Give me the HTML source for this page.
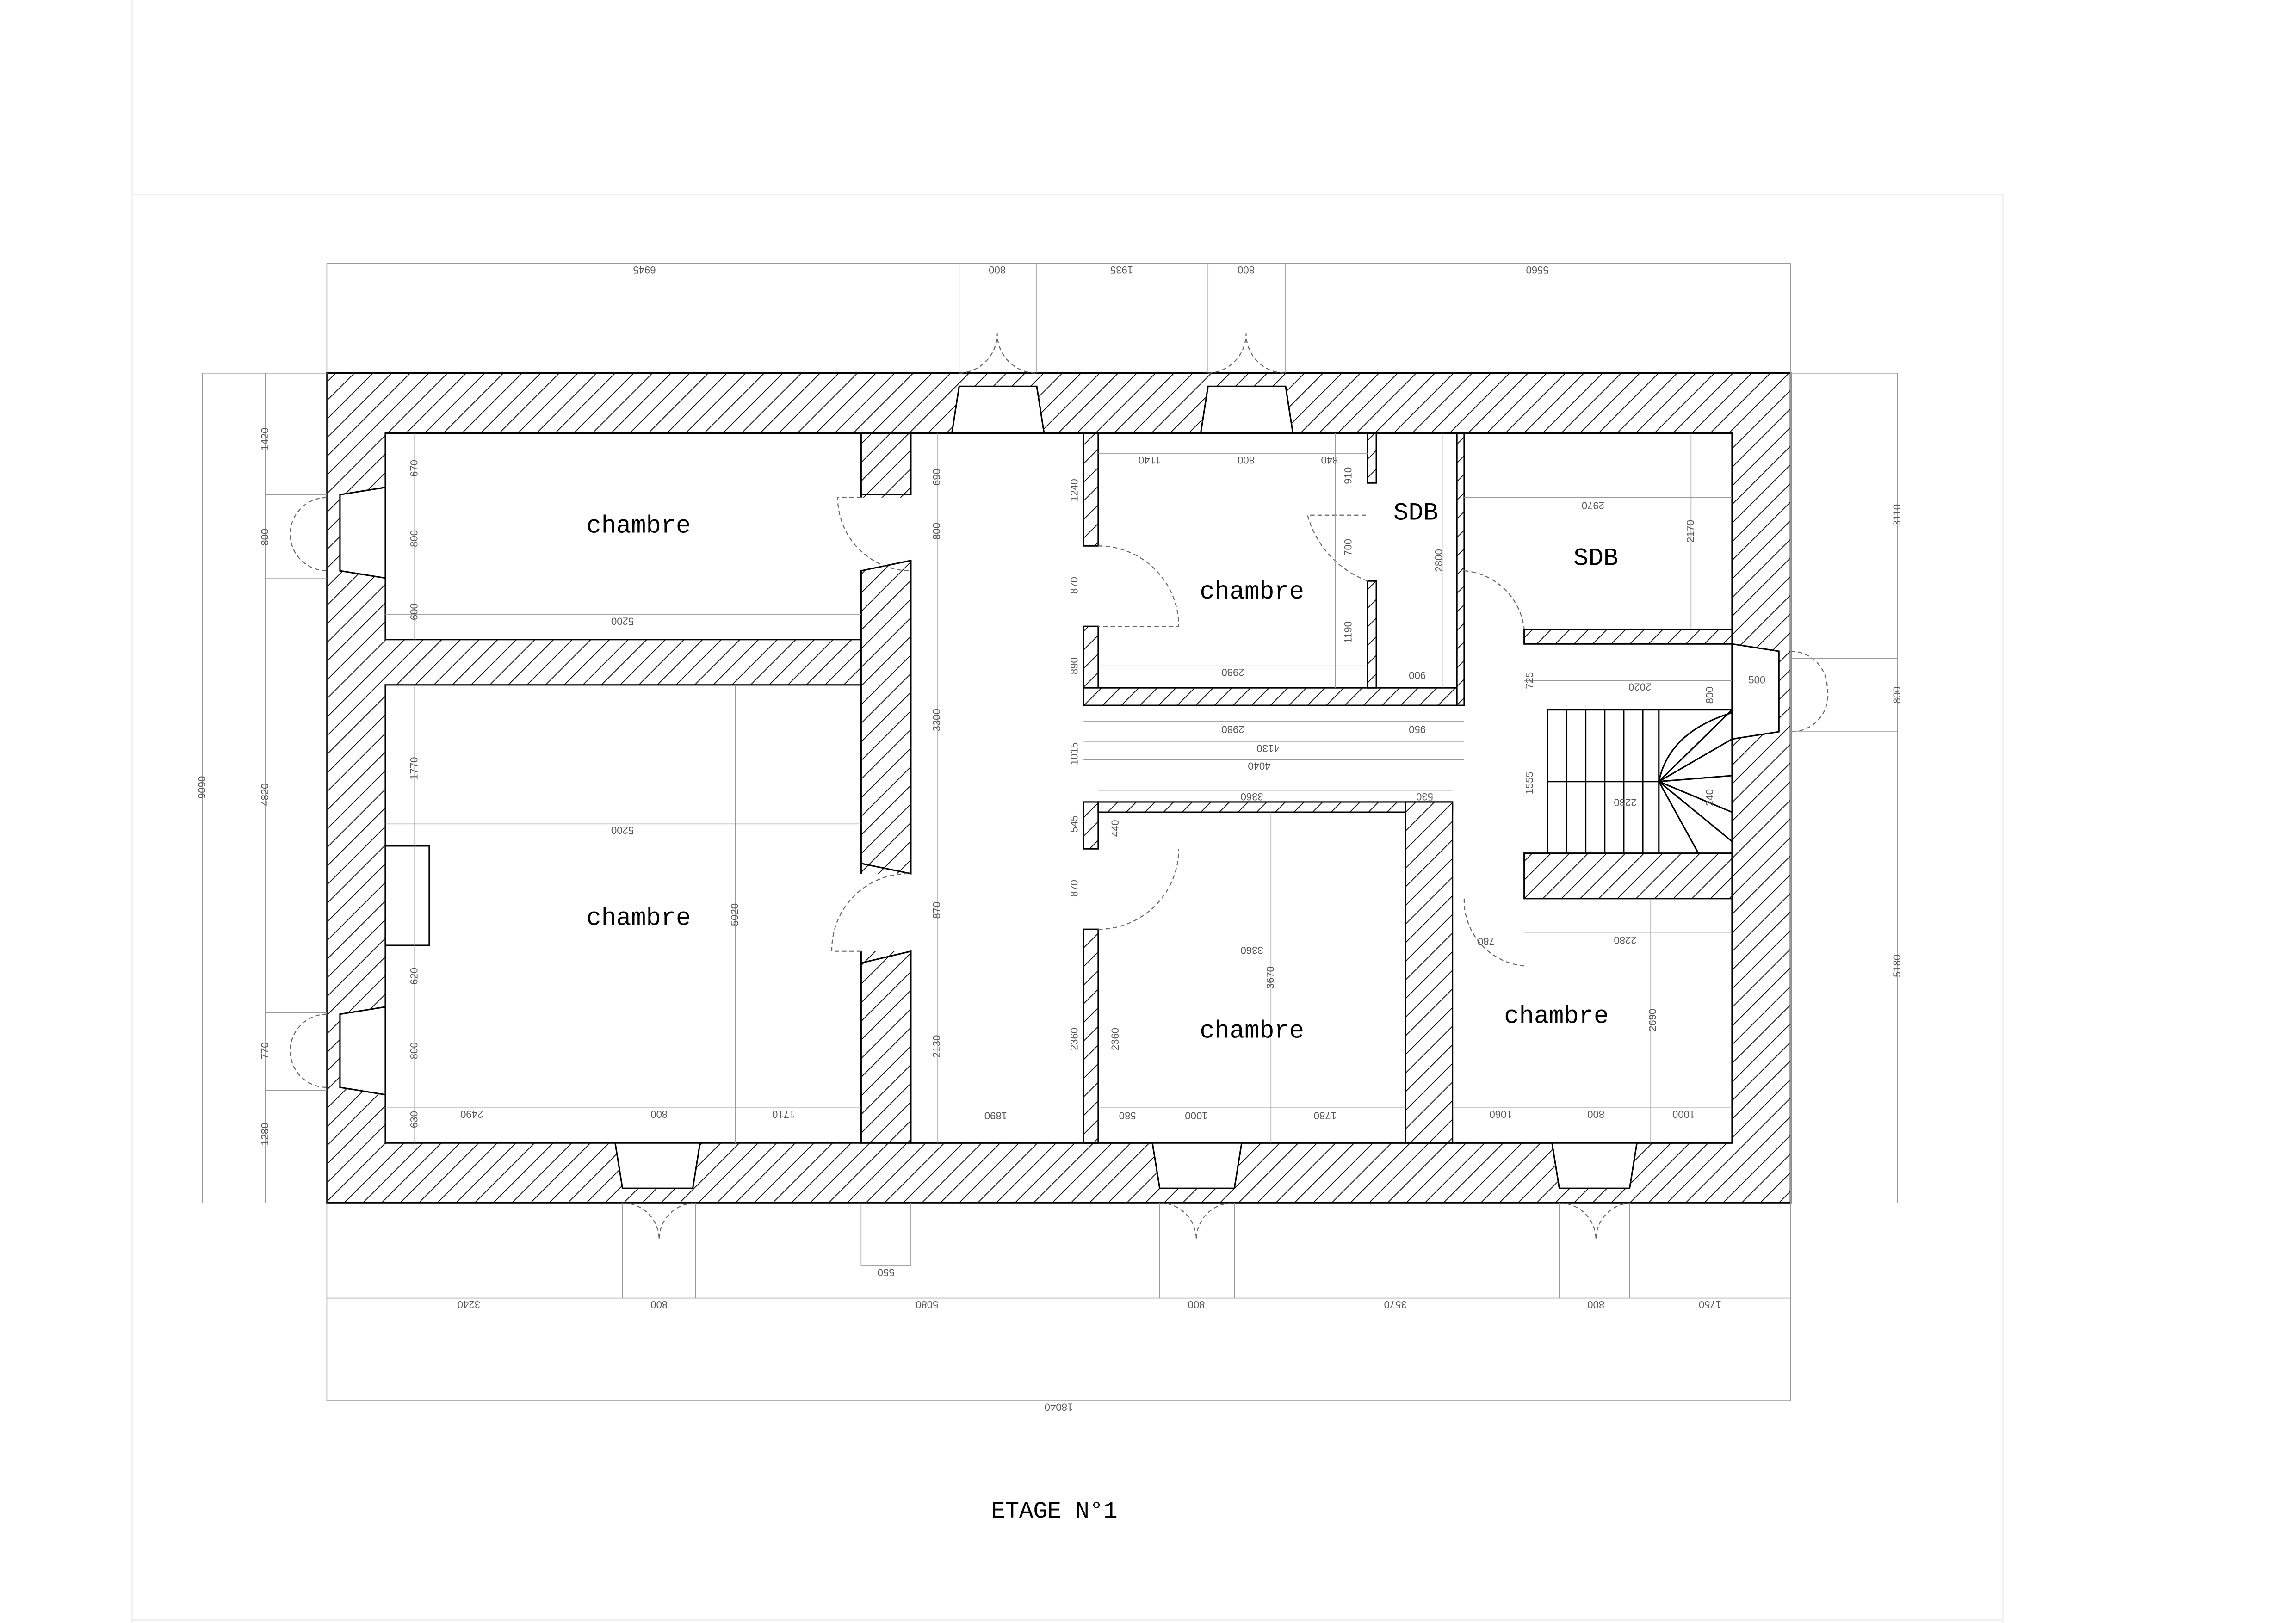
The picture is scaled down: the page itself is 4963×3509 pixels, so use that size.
<!DOCTYPE html>
<html><head><meta charset="utf-8"><style>
html,body{margin:0;padding:0;background:#fff;}
svg{display:block;}
.d{stroke:#999;stroke-width:0.5;fill:none}
.t{font-family:"Liberation Sans",sans-serif;font-size:7px;fill:#555}
.r{font-family:"Liberation Mono","DejaVu Sans Mono",monospace;font-size:17px;fill:#000}
</style></head><body>
<svg width="4963" height="3509" viewBox="0 0 1568 1109" xmlns="http://www.w3.org/2000/svg">
<defs>
<pattern id="h" patternUnits="userSpaceOnUse" width="9" height="9" patternTransform="rotate(45)">
<rect width="9" height="9" fill="#fff"/><line x1="0" y1="0" x2="0" y2="9" stroke="#000" stroke-width="1.1"/>
</pattern>
</defs>
<rect width="1568" height="1109" fill="#fff"/>
<g stroke="#eee" stroke-width="0.8" fill="none">
<line x1="90" y1="133" x2="1368" y2="133"/><line x1="90" y1="1107" x2="1368" y2="1107"/>
<line x1="90" y1="0" x2="90" y2="1109"/><line x1="1368" y1="133" x2="1368" y2="1109"/>
</g>
<!-- outer wall -->
<rect x="223" y="255" width="1000" height="567" fill="url(#h)" stroke="#000" stroke-width="1.2"/>
<!-- white areas -->
<g fill="#fff" stroke="#000" stroke-width="1">
<rect x="263" y="296" width="325" height="141"/>
<rect x="263" y="468" width="325" height="313"/>
<rect x="622" y="296" width="118" height="485"/>
<rect x="740" y="296" width="255" height="485"/>
<rect x="995" y="296" width="188" height="485"/>
</g>
<g fill="#fff">
<rect x="585" y="340" width="40" height="50"/>
<rect x="585" y="597" width="40" height="53"/>
<rect x="621" y="297" width="120" height="483"/>
<rect x="739" y="297" width="257" height="483"/>
<rect x="994" y="297" width="188.5" height="483"/>
</g>
<g stroke="#000" stroke-width="1">
<line x1="1183" y1="296" x2="1183" y2="781"/>
<line x1="622" y1="296" x2="1183" y2="296"/>
<line x1="588" y1="781" x2="1183" y2="781"/>
</g>
<!-- corridor wall shaped pieces -->
<polygon points="588,390 622,383 622,597 588,590" fill="url(#h)" stroke="#000"/>
<polygon points="588,658 622,650 622,781 588,781" fill="url(#h)" stroke="#000"/>
<polygon points="588,296 622,296 622,338 588,338" fill="url(#h)" stroke="#000"/>
<!-- internal walls -->
<g fill="url(#h)" stroke="#000" stroke-width="1">
<rect x="740" y="296" width="10" height="77"/>
<rect x="740" y="428" width="10" height="54"/>
<rect x="740" y="470" width="260" height="12"/>
<rect x="934" y="296" width="6" height="34"/>
<rect x="934" y="397" width="6" height="73"/>
<rect x="995" y="296" width="5" height="186"/>
<rect x="740" y="548" width="10" height="32"/>
<rect x="740" y="635" width="10" height="146"/>
<rect x="750" y="548" width="242" height="7"/>
<rect x="960" y="548" width="32" height="233"/>
<rect x="1041" y="430" width="142" height="10"/>
<rect x="1041" y="583" width="142" height="31"/>
</g>
<!-- fireplace -->
<rect x="263" y="578" width="30" height="68" fill="#fff" stroke="#000"/>
<!-- stairs -->
<g stroke="#000" stroke-width="1" fill="none">
<rect x="1057" y="485" width="126" height="98" fill="#fff"/>
<line x1="1057" y1="534" x2="1133" y2="534"/>
<line x1="1070" y1="485" x2="1070" y2="583"/><line x1="1083" y1="485" x2="1083" y2="583"/>
<line x1="1096" y1="485" x2="1096" y2="583"/><line x1="1109" y1="485" x2="1109" y2="583"/>
<line x1="1122" y1="485" x2="1122" y2="583"/><line x1="1133" y1="485" x2="1133" y2="583"/>
<line x1="1133" y1="534" x2="1183" y2="485"/><line x1="1133" y1="534" x2="1183" y2="505"/>
<line x1="1133" y1="534" x2="1183" y2="530"/><line x1="1133" y1="534" x2="1183" y2="555"/>
<line x1="1133" y1="534" x2="1160" y2="583"/><line x1="1133" y1="534" x2="1183" y2="575"/>
<path d="M1133 534 Q1140 500 1183 487"/>
</g>
<!-- windows -->
<g fill="#fff" stroke="#000" stroke-width="1">
<polygon points="655,264 708,264 713,296 650,296"/>
<polygon points="825,264 878,264 883,296 820,296"/>
<polygon points="420,781 478,781 473,812 425,812"/>
<polygon points="787,781 848,781 843,812 792,812"/>
<polygon points="1060,781 1118,781 1113,812 1065,812"/>
<polygon points="263,333 263,395 232,390 232,338"/>
<polygon points="263,688 263,748 232,743 232,693"/>
<polygon points="1183,440 1183,505 1215,500 1215,445"/>
</g>
<!-- door swings -->
<g stroke="#666" stroke-width="0.7" stroke-dasharray="3,2" fill="none">
<path d="M588 340 L572 340 A50 50 0 0 0 622 390"/>
<path d="M588 650 L568 650 A52 52 0 0 1 620 597"/>
<path d="M750 373 A55 55 0 0 1 805 428 L750 428"/>
<path d="M750 635 A55 55 0 0 0 805 580"/>
<path d="M934 397 A67 67 0 0 1 893 352 L934 352"/>
<path d="M1000 390 A45 45 0 0 1 1041 430"/>
<path d="M1000 614 A45 45 0 0 0 1041 660"/>
<path d="M655 255 A27 27 0 0 0 681 228 A27 27 0 0 0 708 255"/>
<path d="M825 255 A27 27 0 0 0 851 228 A27 27 0 0 0 878 255"/>
<path d="M425 822 A25 25 0 0 1 450 847 A25 25 0 0 1 475 822"/>
<path d="M792 822 A25 25 0 0 1 817 847 A25 25 0 0 1 843 822"/>
<path d="M1065 822 A25 25 0 0 1 1090 847 A25 25 0 0 1 1113 822"/>
<path d="M223 340 A25 25 0 0 0 198 365 A25 25 0 0 0 223 390"/>
<path d="M223 693 A25 25 0 0 0 198 718 A25 25 0 0 0 223 743"/>
<path d="M1223 445 A25 25 0 0 1 1248 470 A25 25 0 0 1 1223 500"/>
</g>
<!-- dimension lines -->
<g class="d">
<line x1="223" y1="180" x2="1223" y2="180"/>
<line x1="223" y1="887" x2="1223" y2="887"/>
<line x1="223" y1="957" x2="1223" y2="957"/>
<line x1="138" y1="255" x2="138" y2="822"/>
<line x1="181" y1="255" x2="181" y2="822"/>
<line x1="1296" y1="255" x2="1296" y2="822"/>
<line x1="223" y1="180" x2="223" y2="957"/><line x1="1223" y1="180" x2="1223" y2="957"/>
<line x1="655" y1="180" x2="655" y2="255"/><line x1="708" y1="180" x2="708" y2="255"/>
<line x1="825" y1="180" x2="825" y2="255"/><line x1="878" y1="180" x2="878" y2="255"/>
<line x1="425" y1="822" x2="425" y2="887"/><line x1="475" y1="822" x2="475" y2="887"/>
<line x1="792" y1="822" x2="792" y2="887"/><line x1="843" y1="822" x2="843" y2="887"/>
<line x1="1065" y1="822" x2="1065" y2="887"/><line x1="1113" y1="822" x2="1113" y2="887"/>
<line x1="588" y1="822" x2="588" y2="865"/><line x1="622" y1="822" x2="622" y2="865"/><line x1="588" y1="865" x2="622" y2="865"/>
<line x1="138" y1="255" x2="223" y2="255"/><line x1="138" y1="822" x2="223" y2="822"/>
<line x1="181" y1="692" x2="223" y2="692"/><line x1="181" y1="745" x2="223" y2="745"/>
<line x1="181" y1="338" x2="223" y2="338"/><line x1="181" y1="395" x2="223" y2="395"/>
<line x1="1223" y1="255" x2="1296" y2="255"/><line x1="1223" y1="822" x2="1296" y2="822"/>
<line x1="1223" y1="450" x2="1296" y2="450"/><line x1="1223" y1="500" x2="1296" y2="500"/>
<line x1="263" y1="420" x2="588" y2="420"/>
<line x1="263" y1="563" x2="588" y2="563"/>
<line x1="263" y1="757" x2="588" y2="757"/>
<line x1="283" y1="296" x2="283" y2="437"/><line x1="283" y1="468" x2="283" y2="781"/>
<line x1="502" y1="468" x2="502" y2="781"/>
<line x1="640" y1="296" x2="640" y2="781"/>
<line x1="750" y1="310" x2="934" y2="310"/>
<line x1="750" y1="455" x2="934" y2="455"/>
<line x1="740" y1="493" x2="1000" y2="493"/><line x1="740" y1="507" x2="1000" y2="507"/><line x1="740" y1="519" x2="1000" y2="519"/>
<line x1="750" y1="540" x2="992" y2="540"/>
<line x1="750" y1="645" x2="960" y2="645"/>
<line x1="868" y1="555" x2="868" y2="781"/>
<line x1="750" y1="757" x2="960" y2="757"/>
<line x1="992" y1="757" x2="1183" y2="757"/>
<line x1="1000" y1="340" x2="1183" y2="340"/>
<line x1="1041" y1="465" x2="1183" y2="465"/>
<line x1="1041" y1="637" x2="1183" y2="637"/>
<line x1="1155" y1="296" x2="1155" y2="430"/>
<line x1="1127" y1="614" x2="1127" y2="781"/>
<line x1="912" y1="296" x2="912" y2="470"/>
<line x1="985" y1="296" x2="985" y2="470"/>
</g>
<!-- dimension texts -->
<g class="t" text-anchor="middle">
<text transform="translate(440,182) rotate(180)">6945</text>
<text transform="translate(681,182) rotate(180)">800</text>
<text transform="translate(766,182) rotate(180)">1935</text>
<text transform="translate(851,182) rotate(180)">800</text>
<text transform="translate(1050,182) rotate(180)">5560</text>
<text transform="translate(320,889) rotate(180)">3240</text>
<text transform="translate(450,889) rotate(180)">800</text>
<text transform="translate(633,889) rotate(180)">5080</text>
<text transform="translate(817,889) rotate(180)">800</text>
<text transform="translate(953,889) rotate(180)">3570</text>
<text transform="translate(1090,889) rotate(180)">800</text>
<text transform="translate(1168,889) rotate(180)">1750</text>
<text transform="translate(723,959) rotate(180)">18040</text>
<text transform="translate(605,867) rotate(180)">550</text>
<text transform="translate(140,538) rotate(-90)">9090</text>
<text transform="translate(183,300) rotate(-90)">1420</text>
<text transform="translate(183,367) rotate(-90)">800</text>
<text transform="translate(183,543) rotate(-90)">4820</text>
<text transform="translate(183,718) rotate(-90)">770</text>
<text transform="translate(183,775) rotate(-90)">1280</text>
<text transform="translate(1298,352) rotate(-90)">3110</text>
<text transform="translate(1298,475) rotate(-90)">800</text>
<text transform="translate(1298,660) rotate(-90)">5180</text>
<text transform="translate(425,422) rotate(180)">5200</text>
<text transform="translate(425,565) rotate(180)">5200</text>
<text transform="translate(322,759) rotate(180)">2490</text>
<text transform="translate(535,759) rotate(180)">1710</text>
<text transform="translate(450,759) rotate(180)">800</text>
<text transform="translate(504,625) rotate(-90)">5020</text>
<text transform="translate(642,492) rotate(-90)">3300</text>
<text transform="translate(642,715) rotate(-90)">2130</text>
<text transform="translate(642,622) rotate(-90)">870</text>
<text transform="translate(642,363) rotate(-90)">800</text>
<text transform="translate(642,326) rotate(-90)">690</text>
<text transform="translate(680,760) rotate(180)">1890</text>
<text transform="translate(785,312) rotate(180)">1140</text>
<text transform="translate(851,312) rotate(180)">800</text>
<text transform="translate(908,312) rotate(180)">840</text>
<text transform="translate(842,457) rotate(180)">2980</text>
<text transform="translate(842,496) rotate(180)">2980</text>
<text transform="translate(866,509) rotate(180)">4130</text>
<text transform="translate(860,521) rotate(180)">4040</text>
<text transform="translate(855,542) rotate(180)">3360</text>
<text transform="translate(855,647) rotate(180)">3360</text>
<text transform="translate(968,459) rotate(180)">900</text>
<text transform="translate(968,496) rotate(180)">950</text>
<text transform="translate(973,542) rotate(180)">530</text>
<text transform="translate(1088,343) rotate(180)">2970</text>
<text transform="translate(1120,467) rotate(180)">2020</text>
<text transform="translate(1110,546) rotate(180)">2280</text>
<text transform="translate(1110,640) rotate(180)">2280</text>
<text transform="translate(1025,759) rotate(180)">1060</text>
<text transform="translate(1090,759) rotate(180)">800</text>
<text transform="translate(1150,759) rotate(180)">1000</text>
<text transform="translate(770,760) rotate(180)">580</text>
<text transform="translate(817,760) rotate(180)">1000</text>
<text transform="translate(905,760) rotate(180)">1780</text>
<text transform="translate(1015,641) rotate(180)">780</text>
<text transform="translate(870,668) rotate(-90)">3670</text>
<text transform="translate(1131,697) rotate(-90)">2690</text>
<text transform="translate(1157,363) rotate(-90)">2170</text>
<text transform="translate(985,383) rotate(-90)">2800</text>
<text transform="translate(923,432) rotate(-90)">1190</text>
<text transform="translate(923,374) rotate(-90)">700</text>
<text transform="translate(923,325) rotate(-90)">910</text>
<text transform="translate(736,335) rotate(-90)">1240</text>
<text transform="translate(736,400) rotate(-90)">870</text>
<text transform="translate(736,455) rotate(-90)">890</text>
<text transform="translate(736,515) rotate(-90)">1015</text>
<text transform="translate(736,563) rotate(-90)">545</text>
<text transform="translate(736,607) rotate(-90)">870</text>
<text transform="translate(736,710) rotate(-90)">2360</text>
<text transform="translate(764,710) rotate(-90)">2360</text>
<text transform="translate(764,566) rotate(-90)">440</text>
<text transform="translate(1047,465) rotate(-90)">725</text>
<text transform="translate(1047,535) rotate(-90)">1555</text>
<text transform="translate(285,320) rotate(-90)">670</text>
<text transform="translate(285,368) rotate(-90)">800</text>
<text transform="translate(285,418) rotate(-90)">600</text>
<text transform="translate(285,525) rotate(-90)">1770</text>
<text transform="translate(285,667) rotate(-90)">620</text>
<text transform="translate(285,718) rotate(-90)">800</text>
<text transform="translate(285,765) rotate(-90)">630</text>
<text transform="translate(1170,475) rotate(-90)">800</text>
<text transform="translate(1170,545) rotate(-90)">240</text>
<text x="1200" y="467">500</text>
</g>
<!-- room labels -->
<g class="r" text-anchor="middle">
<text x="436" y="364">chambre</text>
<text x="436" y="632">chambre</text>
<text x="855" y="409">chambre</text>
<text x="855" y="709">chambre</text>
<text x="1063" y="699">chambre</text>
<text x="967" y="355">SDB</text>
<text x="1090" y="386">SDB</text>
<text x="720" y="1037" style="font-size:16px">ETAGE N°1</text>
</g>
</svg>
</body></html>
